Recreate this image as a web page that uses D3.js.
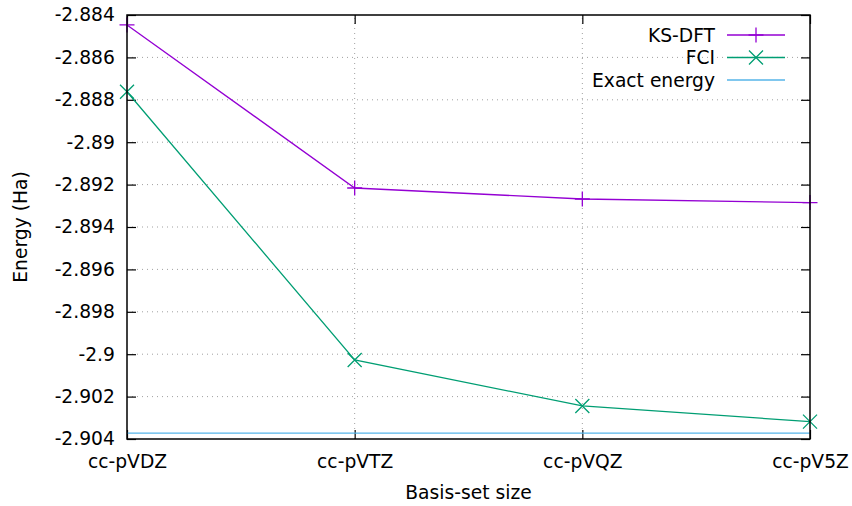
<!DOCTYPE html>
<html>
<head>
<meta charset="utf-8">
<script src="https://cdn.jsdelivr.net/npm/d3@7"></script>
<style>
  body { margin: 0; background: #fff; }
  text { font-family: "DejaVu Sans", sans-serif; fill: #000; }
</style>
</head>
<body>
<div id="chart"></div>
<script>
const width = 852;
const height = 506;
const margin = {top: 15, right: 42, bottom: 67, left: 127};
const fontSize = 18.7;

// data
const basisSets = ["cc-pVDZ", "cc-pVTZ", "cc-pVQZ", "cc-pV5Z"];
const ksDft = [-2.88447, -2.89216, -2.89268, -2.89285];
const fci = [-2.88762, -2.90027, -2.90244, -2.90318];
const exactEnergy = -2.90372;
const yTicks = [-2.904, -2.902, -2.9, -2.898, -2.896, -2.894, -2.892, -2.89, -2.888, -2.886, -2.884];

const colors = {ks: "#9400d3", fci: "#009e73", exact: "#56b4e9"};

const svg = d3.select("#chart").append("svg")
  .attr("width", width)
  .attr("height", height);

const x = d3.scalePoint()
  .domain(basisSets)
  .range([margin.left, width - margin.right]);

const y = d3.scaleLinear()
  .domain([-2.904, -2.884])
  .range([height - margin.bottom, margin.top]);

const x0 = margin.left, x1 = width - margin.right;
const y0 = height - margin.bottom, y1 = margin.top;

// grid
const grid = svg.append("g")
  .attr("stroke", "#a0a0a0")
  .attr("stroke-width", 1)
  .attr("stroke-dasharray", "1,4");
grid.selectAll(".gy").data(yTicks.slice(1, -1)).join("line")
  .attr("x1", x0).attr("x2", x1)
  .attr("y1", d => y(d)).attr("y2", d => y(d));
grid.selectAll(".gx").data(basisSets.slice(1, -1)).join("line")
  .attr("y1", y0).attr("y2", y1)
  .attr("x1", d => x(d)).attr("x2", d => x(d));

// axes with inward ticks (gnuplot style, mirrored)
const tickLen = 9;
const leftAxis = svg.append("g")
  .attr("transform", `translate(${x0},0)`)
  .call(d3.axisLeft(y).tickValues(yTicks).tickSizeInner(-tickLen).tickSizeOuter(0).tickPadding(14)
    .tickFormat(d => String(+d.toFixed(3))));
const rightAxis = svg.append("g")
  .attr("transform", `translate(${x1},0)`)
  .call(d3.axisRight(y).tickValues(yTicks).tickSizeInner(-tickLen).tickSizeOuter(0).tickFormat(""));
const bottomAxis = svg.append("g")
  .attr("transform", `translate(0,${y0})`)
  .call(d3.axisBottom(x).tickSizeInner(-tickLen).tickSizeOuter(0).tickPadding(16));
const topAxis = svg.append("g")
  .attr("transform", `translate(0,${y1})`)
  .call(d3.axisTop(x).tickSizeInner(-tickLen).tickSizeOuter(0).tickFormat(""));

[leftAxis, rightAxis, bottomAxis, topAxis].forEach(g => {
  g.select(".domain").remove();
  g.selectAll("line").attr("stroke", "#000").attr("stroke-width", 1.2);
  g.selectAll("text").attr("font-size", fontSize).attr("font-family", "DejaVu Sans, sans-serif").attr("fill", "#000");
});
leftAxis.selectAll("text").attr("dx", "0.1em");

// series
const line = d3.line().x((d, i) => x(basisSets[i])).y(d => y(d));

svg.append("line")
  .attr("x1", x0).attr("x2", x1)
  .attr("y1", y(exactEnergy)).attr("y2", y(exactEnergy))
  .attr("stroke", colors.exact).attr("stroke-width", 1.3);

svg.append("path").datum(ksDft)
  .attr("d", line).attr("fill", "none")
  .attr("stroke", colors.ks).attr("stroke-width", 1.3);
svg.append("path").datum(fci)
  .attr("d", line).attr("fill", "none")
  .attr("stroke", colors.fci).attr("stroke-width", 1.3);

const plusPath = s => `M${-s},0H${s}M0,${-s}V${s}`;
const crossPath = s => `M${-s},${-s}L${s},${s}M${-s},${s}L${s},${-s}`;

svg.append("g").selectAll("path").data(ksDft).join("path")
  .attr("transform", (d, i) => `translate(${x(basisSets[i])},${y(d)})`)
  .attr("d", plusPath(7.5))
  .attr("stroke", colors.ks).attr("stroke-width", 1.3);
svg.append("g").selectAll("path").data(fci).join("path")
  .attr("transform", (d, i) => `translate(${x(basisSets[i])},${y(d)})`)
  .attr("d", crossPath(7))
  .attr("stroke", colors.fci).attr("stroke-width", 1.3);

// border
svg.append("rect")
  .attr("x", x0).attr("y", y1)
  .attr("width", x1 - x0).attr("height", y0 - y1)
  .attr("fill", "none").attr("stroke", "#000").attr("stroke-width", 1.5);

// legend
const legendItems = [
  {name: "KS-DFT", color: colors.ks, mark: plusPath(7.5)},
  {name: "FCI", color: colors.fci, mark: crossPath(7)},
  {name: "Exact energy", color: colors.exact, mark: null}
];
const legend = svg.append("g");
legendItems.forEach((item, i) => {
  const ly = 35 + i * 22.5;
  legend.append("text")
    .attr("x", 715).attr("y", ly)
    .attr("dy", "0.35em")
    .attr("text-anchor", "end")
    .attr("font-size", fontSize)
    .text(item.name);
  legend.append("line")
    .attr("x1", 727).attr("x2", 785)
    .attr("y1", ly).attr("y2", ly)
    .attr("stroke", item.color).attr("stroke-width", 1.3);
  if (item.mark) {
    legend.append("path")
      .attr("transform", `translate(756,${ly})`)
      .attr("d", item.mark)
      .attr("stroke", item.color).attr("stroke-width", 1.3);
  }
});

// axis titles
svg.append("text")
  .attr("x", (x0 + x1) / 2).attr("y", 499)
  .attr("text-anchor", "middle")
  .attr("font-size", fontSize)
  .text("Basis-set size");
svg.append("text")
  .attr("transform", `translate(27,${(y0 + y1) / 2}) rotate(-90)`)
  .attr("text-anchor", "middle")
  .attr("font-size", fontSize)
  .text("Energy (Ha)");
</script>
</body>
</html>
